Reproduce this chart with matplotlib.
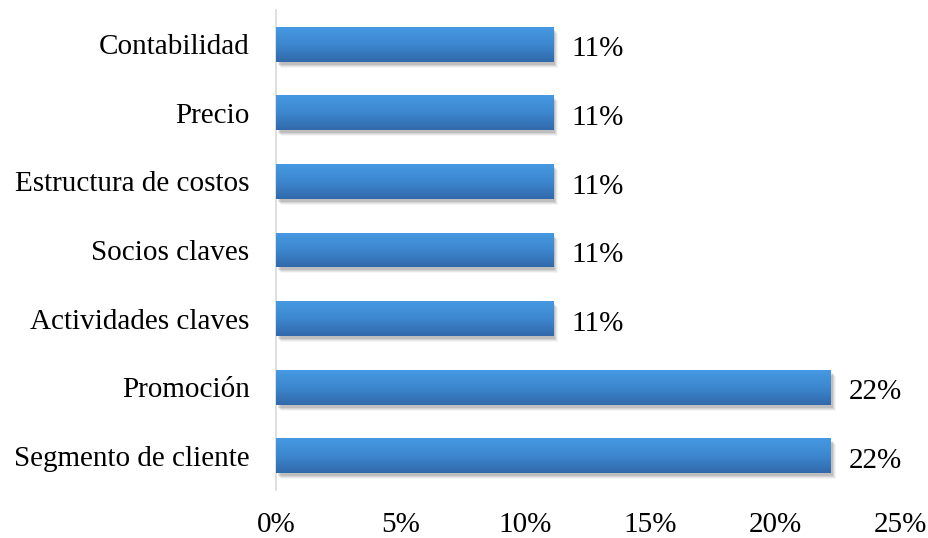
import numpy as np
import matplotlib
matplotlib.use("Agg")
import matplotlib.pyplot as plt
from matplotlib.colors import LinearSegmentedColormap
import matplotlib.transforms as mtransforms
from matplotlib.patches import Rectangle

categories = ["Segmento de cliente", "Promoción", "Actividades claves", "Socios claves",
              "Estructura de costos", "Precio", "Contabilidad"]
values = [2/9, 2/9, 1/9, 1/9, 1/9, 1/9, 1/9]
labels = ["22%", "22%", "11%", "11%", "11%", "11%", "11%"]
xticks = [0, 0.05, 0.10, 0.15, 0.20, 0.25]
xticklabels = ["0%", "5%", "10%", "15%", "20%", "25%"]

plt.rcParams['font.family'] = ['Liberation Serif', 'DejaVu Serif']

fig = plt.figure(figsize=(9.29, 5.38), dpi=100)
ax = fig.add_axes([276/929, 1 - 490/538, (900 - 276)/929, (490 - 10)/538])

y = np.arange(len(categories))
bars = ax.barh(y, values, height=0.51, color='none', edgecolor='none', zorder=3)

cmap = LinearSegmentedColormap.from_list("g", ["#3169AA", "#3D87CF", "#4599E2"])
grad = np.linspace(0, 1, 256).reshape(-1, 1)

for b in bars:
    x0, y0, w, h = b.get_x(), b.get_y(), b.get_width(), b.get_height()
    for (dx, dy, a) in [(2, -3, 0.10), (3, -4, 0.08), (4, -5, 0.06), (5, -6, 0.04)]:
        tr = mtransforms.offset_copy(ax.transData, fig=fig, x=dx, y=dy, units='dots')
        ax.add_patch(Rectangle((x0, y0), w, h, facecolor='black', alpha=a,
                               edgecolor='none', transform=tr, zorder=2))
    im = ax.imshow(grad, extent=(x0, x0 + w, y0, y0 + h), aspect='auto',
                   cmap=cmap, origin='lower', zorder=4, interpolation='bilinear')
    im.set_clip_path(b)

for b, lab in zip(bars, labels):
    ax.annotate(lab, xy=(b.get_width(), b.get_y() + b.get_height() / 2),
                xytext=(13, -1.5), textcoords='offset points', va='center_baseline', ha='left',
                fontsize=21, color='black')

ax.set_xlim(0, 0.25)
ax.set_ylim(-0.5, len(categories) - 0.5)
ax.set_yticks(y)
ax.set_yticklabels(categories, fontsize=21)
for t in ax.get_yticklabels():
    t.set_transform(t.get_transform() + mtransforms.ScaledTranslation(0, -1.5/72, fig.dpi_scale_trans))
ax.set_xticks(xticks)
ax.set_xticklabels(xticklabels, fontsize=21)
ax.tick_params(axis='y', length=0, pad=19)
ax.tick_params(axis='x', length=0, pad=16)
for s in ['top', 'right', 'bottom']:
    ax.spines[s].set_visible(False)
ax.spines['left'].set_color('#D9D9D9')
ax.spines['left'].set_linewidth(1.2)

fig.savefig("out.png", dpi=100)
